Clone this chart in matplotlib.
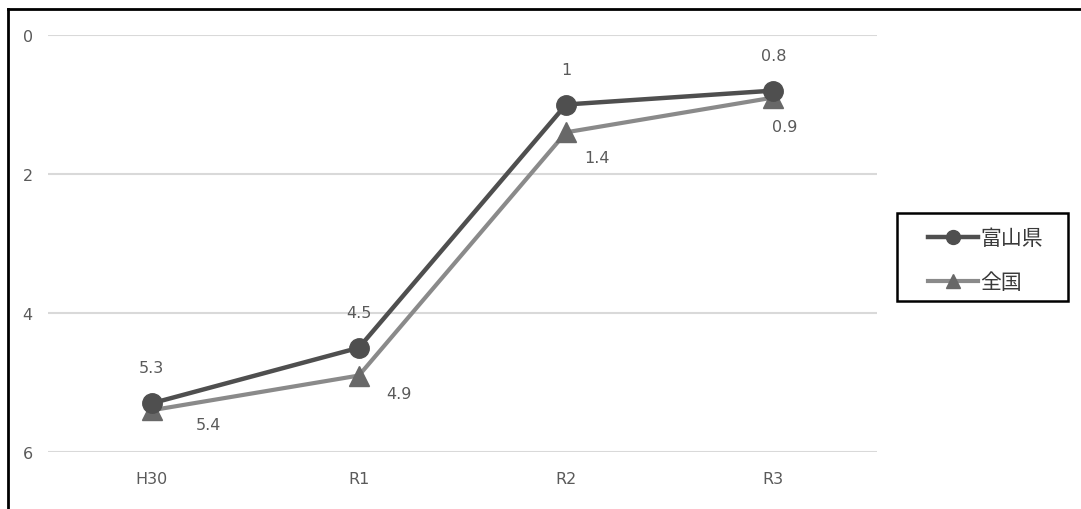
import matplotlib
matplotlib.use("Agg")
from matplotlib import pyplot as plt
from matplotlib.lines import Line2D
from matplotlib.patches import Rectangle

plt.rcParams['font.family'] = ['DejaVu Sans', 'Noto Sans CJK JP']

# データ
years = ["H30", "R1", "R2", "R3"]
toyama = [5.3, 4.5, 1, 0.8]
zenkoku = [5.4, 4.9, 1.4, 0.9]
series_names = ["富山県", "全国"]

# ラベルの位置（ピクセル単位のずれ）
toyama_offsets = [(0, 36), (0, 35), (0, 35), (0, 35)]
zenkoku_offsets = [(57, -14), (40, -18), (31, -25), (11, -29)]

c_toyama = "#4f4f4f"
c_zenkoku = "#8a8a8a"
c_tri = "#686868"
c_text = "#5a5a5a"

W, H = 1081, 510
fig = plt.figure(figsize=(W / 100, H / 100), dpi=100)
ax = fig.add_axes([0.0444, 0.1118, 0.7669, 0.8176])

x = list(range(len(years)))

ax.plot(x, zenkoku, color=c_zenkoku, lw=3, marker="^", markersize=14,
        markerfacecolor=c_tri, markeredgecolor=c_tri, zorder=3)
ax.plot(x, toyama, color=c_toyama, lw=3.2, marker="o", markersize=14,
        markerfacecolor=c_toyama, markeredgecolor=c_toyama, zorder=4)

for xi, v, off in zip(x, toyama, toyama_offsets):
    ax.annotate(f"{v:g}", (xi, v), xytext=off, textcoords="offset pixels",
                ha="center", va="center", fontsize=11.5, color=c_text)
for xi, v, off in zip(x, zenkoku, zenkoku_offsets):
    ax.annotate(f"{v:g}", (xi, v), xytext=off, textcoords="offset pixels",
                ha="center", va="center", fontsize=11.5, color=c_text)

ax.set_xlim(-0.5, len(years) - 0.5)
ax.set_ylim(6, 0)
ax.set_yticks([0, 2, 4, 6])
ax.set_xticks(x)
ax.set_xticklabels(years)
ax.tick_params(length=0, labelsize=11.5, labelcolor=c_text)
ax.tick_params(axis="x", pad=14)
ax.tick_params(axis="y", pad=11)
ax.grid(axis="y", color="#d9d9d9", lw=1.5)
ax.set_axisbelow(True)
for s in ax.spines.values():
    s.set_visible(False)

# 凡例（枠は別に描く）
handles = [
    Line2D([], [], color=c_toyama, lw=3.2, marker="o", markersize=10),
    Line2D([], [], color=c_zenkoku, lw=3, marker="^", markersize=10,
           markerfacecolor=c_tri, markeredgecolor=c_tri),
]
leg = fig.legend(handles, series_names, loc="upper left",
                 bbox_to_anchor=(928 / W, 1 - 229 / H), fontsize=15,
                 frameon=False, handlelength=2.4, handletextpad=0.1,
                 labelspacing=1.15, borderpad=0, borderaxespad=0,
                 labelcolor="#3a3a3a")
fig.add_artist(Rectangle((897 / W, 1 - 302 / H), 171 / W, 88 / H,
                         transform=fig.transFigure, fill=False,
                         edgecolor="black", lw=1.8))

# 外枠（上と左）
fig.add_artist(Line2D([0.0074, 1.0], [0.980, 0.980], color="black", lw=2,
                      transform=fig.transFigure))
fig.add_artist(Line2D([0.0074, 0.0074], [0.0, 0.980], color="black", lw=2,
                      transform=fig.transFigure))

fig.savefig("out.png", dpi=100)
